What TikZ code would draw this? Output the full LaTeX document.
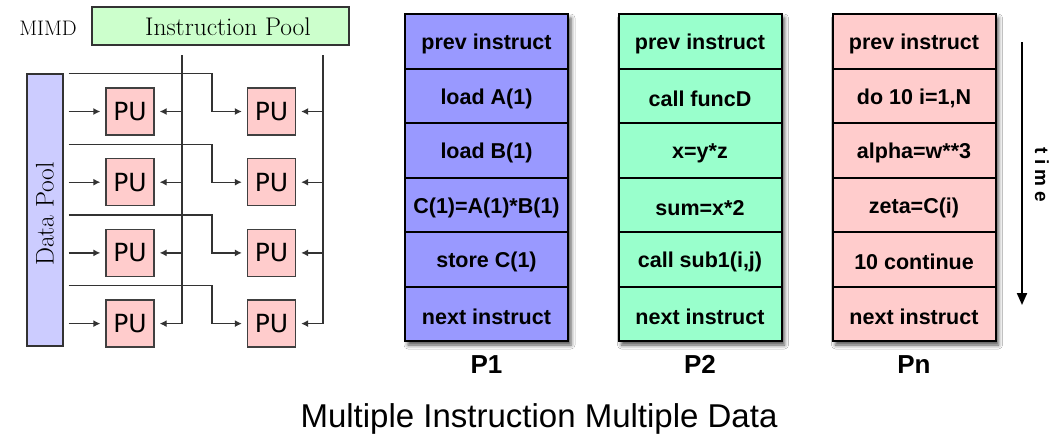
\documentclass[tikz,border=0pt]{standalone}
\usepackage{fontspec}
\newfontfamily\cellfont{Liberation Sans}
\newfontfamily\pufont{DejaVu Sans}
\usetikzlibrary{arrows.meta,shadows.blur,calc}

\definecolor{ipoolgreen}{HTML}{CCFFCC}
\definecolor{dpoolblue}{HTML}{CCCCFF}
\definecolor{pupink}{HTML}{FFCCCC}
\definecolor{colA}{HTML}{9999FF}
\definecolor{colB}{HTML}{99FFCC}
\definecolor{colC}{HTML}{FFCCCC}

\tikzset{
  serifbig/.style={font=\fontsize{25.5}{25.5}\selectfont},
  pool/.style={draw=black!80, line width=1.3pt, inner sep=0pt},
  pu/.style={draw=black!75, line width=1.3pt, fill=pupink, minimum width=48pt,
    minimum height=47pt, inner sep=0pt, font=\pufont\fontsize{25}{25}\selectfont},
  wire/.style={draw=black!80, line width=1.3pt},
  feed/.style={wire, -{Latex[length=7pt,width=7pt]}, shorten >=5pt},
  colframe/.style={draw, line width=2pt, minimum width=163pt, minimum height=327pt,
    inner sep=0pt, blur shadow={shadow xshift=3pt, shadow yshift=-4pt,
    shadow blur radius=4pt, shadow opacity=70}},
  cell/.style={draw, line width=2pt, minimum width=163pt, minimum height=54.5pt,
    inner sep=0pt},
  celltext/.style={font=\cellfont\bfseries\fontsize{21.5}{21.5}\selectfont},
  plabel/.style={anchor=base, font=\cellfont\bfseries\fontsize{26}{26}\selectfont},
}

\begin{document}
\begin{tikzpicture}[x=1pt, y=-1pt]
\useasboundingbox[fill=white] (0,0) rectangle (1055,440);

% ---------- MIMD block diagram ----------
\node[font=\fontsize{21}{21}\selectfont] (mimd) at (48,28) {MIMD};
\node[pool, fill=ipoolgreen, minimum width=257pt, minimum height=38pt] (ipool) at (220.5,26) {};
\node[serifbig] (iplabel) at (228,27) {Instruction Pool};
\node[pool, fill=dpoolblue, minimum width=36pt, minimum height=272pt] (dpool) at (45,210) {};
\node[serifbig, rotate=90] (dplabel) at (45,214) {Data Pool};

\coordinate (ta) at (182,55);
\coordinate (tb) at (323,55);

\foreach \k/\y in {1/111.5, 2/182.2, 3/252.9, 4/323.6} {
  \node[pu] (L\k) at (130,\y) {PU};
  \node[pu] (R\k) at (271.5,\y) {PU};
  \coordinate (j\k) at (212,\y);
  % data feeds
  \draw[feed, shorten <=5pt] (dpool.east |- L\k) -- (L\k);
  \draw[feed, shorten <=5pt] ($(dpool.east |- L\k)+(0,-38)$) -| (j\k) -- (R\k);
}
% instruction buses
\foreach \k in {1,2,3} {
  \draw[feed] (ta |- L\k) -- (L\k);
  \draw[feed] (tb |- R\k) -- (R\k);
}
\draw[feed] (ta) |- (L4);
\draw[feed] (tb) |- (R4);

% ---------- instruction streams ----------
\node[colframe, fill=colA] (A) at (486.5,177.5) {};
\node[colframe, fill=colB] (B) at (700,177.5) {};
\node[colframe, fill=colC] (C) at (914,177.5) {};

\foreach \t [count=\i] in {prev instruct, load A(1), load B(1), C(1)=A(1)*B(1), store C(1), next instruct} {
  \node[cell] (a\i) at (486.5,{14+54.5*(\i-0.5)}) {};
  \node[celltext] (at\i) at ($(a\i)+(0,3)$) {\t};
}
\foreach \t [count=\i] in {prev instruct, call funcD, x=y*z, sum=x*2, {call sub1(i,j)}, next instruct} {
  \node[cell] (b\i) at (700,{14+54.5*(\i-0.5)}) {};
  \node[celltext] (bt\i) at ($(b\i)+(0,3)$) {\t};
}
\foreach \t [count=\i] in {prev instruct, {do 10 i=1,N}, alpha=w**3, zeta=C(i), 10 continue, next instruct} {
  \node[cell] (c\i) at (914,{14+54.5*(\i-0.5)}) {};
  \node[celltext] (ct\i) at ($(c\i)+(0,3)$) {\t};
}

\node[plabel] (pa) at (486.5,373) {P1};
\node[plabel] (pb) at (700,373) {P2};
\node[plabel] (pc) at (914,373) {Pn};

% time axis
\coordinate (t0) at (1022,42);
\coordinate (t1) at (1022,305);
\draw[line width=2pt, -{Triangle[length=12pt,width=10pt]}] (t0) -- (t1);
\node[rotate=-90, font=\cellfont\bfseries\fontsize{19}{19}\selectfont] (tm) at (1042,175) {t i m e};

% caption
\node[font=\cellfont\fontsize{33}{33}\selectfont] (ttl) at (539,419) {Multiple Instruction Multiple Data};
\end{tikzpicture}
\end{document}
